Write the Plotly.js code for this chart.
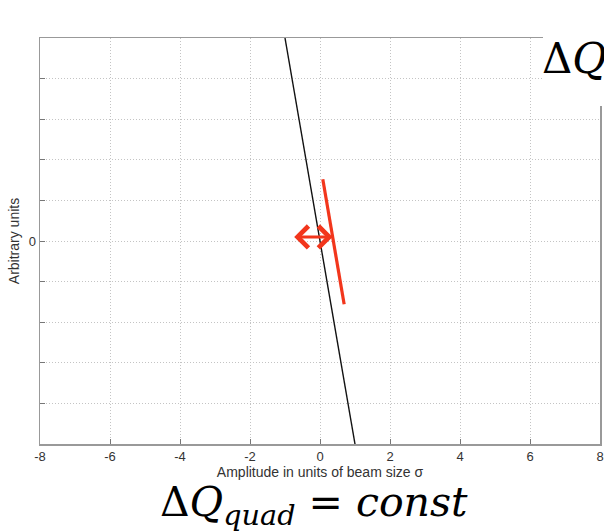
<!DOCTYPE html>
<html>
<head>
<meta charset="utf-8">
<script src="https://cdn.plot.ly/plotly-3.0.1.min.js"></script>
<style>
  html, body { margin: 0; padding: 0; background: #ffffff; }
  #chart { width: 604px; height: 532px; }
</style>
</head>
<body>
<div id="chart"></div>
<script>
// Tune shift versus amplitude (arbitrary units)
const tuneLineX = [-1, 1];
const tuneLineY = [5, -5];

// Constant quadrupole tune shift (red segment)
const quadLineX = [0.08, 0.69];
const quadLineY = [1.52, -1.56];

// Double-headed arrow marking the shift
const arrowX = [-0.78, 0.36];
const arrowY = [0.1, 0.1];

// Axis ticks (plain hyphen for negatives)
const xTickVals = [-8, -6, -4, -2, 0, 2, 4, 6, 8];
const xTickText = ['-8', '-6', '-4', '-2', '0', '2', '4', '6', '8'];
const yTickVals = [-5, -4, -3, -2, -1, 0, 1, 2, 3, 4, 5];
const yTickText = ['', '', '', '', '', '0', '', '', '', '', ''];

const red = '#f2361c';
const axisGray = '#999999';
const sans = 'Liberation Sans, Arial, sans-serif';

const traces = [
  {
    x: tuneLineX, y: tuneLineY,
    type: 'scatter', mode: 'lines',
    line: { color: '#111111', width: 1.4 },
    hoverinfo: 'skip'
  },
  {
    x: quadLineX, y: quadLineY,
    type: 'scatter', mode: 'lines',
    line: { color: red, width: 3.2 },
    hoverinfo: 'skip'
  }
];

const axisCommon = {
  showline: true, mirror: true, linecolor: axisGray, linewidth: 1.5,
  ticks: 'inside', ticklen: 5, tickcolor: '#777777', tickwidth: 1,
  showgrid: true, gridcolor: '#c4c4c4', griddash: '1px,2px', gridwidth: 1,
  zeroline: false,
  tickfont: { family: sans, size: 13, color: '#333' }
};

const layout = {
  width: 604, height: 532,
  margin: { l: 40, r: 4, t: 38, b: 88 },
  paper_bgcolor: '#ffffff', plot_bgcolor: '#ffffff',
  showlegend: false,
  xaxis: Object.assign({}, axisCommon, {
    range: [-8, 8], tickvals: xTickVals, ticktext: xTickText,
    title: { text: 'Amplitude in units of beam size σ', standoff: 0,
             font: { family: sans, size: 14, color: '#333' } }
  }),
  yaxis: Object.assign({}, axisCommon, {
    range: [-5, 5], tickvals: yTickVals, ticktext: yTickText,
    title: { text: 'Arbitrary units', standoff: 6,
             font: { family: sans, size: 14, color: '#333' } }
  }),
  shapes: [
    { type: 'rect', xref: 'paper', yref: 'paper', layer: 'above',
      x0: (543 - 40) / 560, x1: 1.01, y0: (444 - 106) / 406, y1: 1.06,
      fillcolor: '#ffffff', line: { width: 0 } }
  ],
  annotations: [
    { x: arrowX[1], y: arrowY[1], ax: arrowX[0], ay: arrowY[0],
      xref: 'x', yref: 'y', axref: 'x', ayref: 'y',
      text: '', showarrow: true, arrowside: 'end+start',
      arrowhead: 4, startarrowhead: 4, arrowsize: 1.4, startarrowsize: 1.4,
      arrowwidth: 3, arrowcolor: red },
    { xref: 'paper', yref: 'paper', x: (540 - 40) / 560, y: (444 - 58) / 406,
      xanchor: 'left', yanchor: 'middle', showarrow: false,
      text: 'Δ<i>Q</i>',
      font: { family: 'DejaVu Serif, Liberation Serif, serif', size: 42, color: '#000' } },
    { xref: 'paper', yref: 'paper', x: (314 - 40) / 560, y: (444 - 505) / 406,
      xanchor: 'center', yanchor: 'middle', showarrow: false,
      text: 'Δ<i>Q</i><sub><i>quad</i></sub> = <i>const</i>',
      font: { family: 'DejaVu Serif, Liberation Serif, serif', size: 41, color: '#000' } }
  ]
};

Plotly.newPlot('chart', traces, layout, { displayModeBar: false, staticPlot: true });
</script>
</body>
</html>
